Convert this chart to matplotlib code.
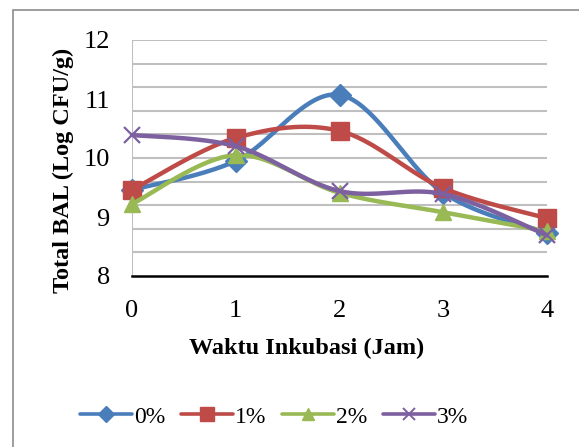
import numpy as np
import matplotlib.pyplot as plt
from matplotlib.patches import Rectangle

plt.rcParams['font.family'] = ['Liberation Serif', 'DejaVu Serif']

# jam inkubasi dan total BAL (log CFU/g) per konsentrasi
waktu = [0, 1, 2, 3, 4]
bal_0 = [9.46, 9.95, 11.07, 9.41, 8.73]
bal_1 = [9.46, 10.34, 10.46, 9.49, 8.98]
bal_2 = [9.22, 10.05, 9.41, 9.08, 8.76]
bal_3 = [10.39, 10.20, 9.44, 9.39, 8.69]
labels = ['0%', '1%', '2%', '3%']
y_ticks = [8, 9, 10, 11, 12]


def smooth(x, y, n=40):
    # kurva halus ala Excel (Bezier dengan titik kontrol Catmull-Rom)
    p = np.column_stack([x, y]).astype(float)
    pts = np.vstack([p[0], p, p[-1]])
    out = []
    t = np.linspace(0, 1, n)[:, None]
    for i in range(1, len(pts) - 2):
        p0, p1, p2, p3 = pts[i - 1], pts[i], pts[i + 1], pts[i + 2]
        c1 = p1 + (p2 - p0) / 6
        c2 = p2 - (p3 - p1) / 6
        seg = ((1 - t) ** 3) * p1 + 3 * ((1 - t) ** 2) * t * c1 \
            + 3 * (1 - t) * t ** 2 * c2 + t ** 3 * p2
        out.append(seg)
    out = np.vstack(out)
    return out[:, 0], out[:, 1]


fig = plt.figure(figsize=(5.79, 4.47), dpi=100)
fig.patches.append(Rectangle((13 / 579, -0.1), 1.0, 1 - 10 / 447 + 0.1,
                             transform=fig.transFigure, fill=False,
                             edgecolor='#8c8c8c', linewidth=1.2))

ax = fig.add_axes([132 / 579, 1 - 276 / 447, 415 / 579, 236 / 447])
ax.set_xlim(0, 4)
ax.set_ylim(8, 12)

for g in np.arange(8.4, 12.01, 0.4):
    ax.axhline(g, color='#bfbfbf', linewidth=1.5, zorder=0)
ax.axvline(0, color='#bfbfbf', linewidth=1.5, zorder=0)

for s in ['top', 'right', 'left']:
    ax.spines[s].set_visible(False)
ax.spines['bottom'].set_linewidth(1.8)
ax.spines['bottom'].set_color('black')

series = [
    (bal_0, '#4a7ebb', 'D', 11),
    (bal_1, '#be4b48', 's', 13),
    (bal_2, '#98b954', '^', 12),
    (bal_3, '#7d60a0', 'x', 12),
]
for (vals, col, mk, ms), lab in zip(series, labels):
    sx, sy = smooth(waktu, vals)
    ax.plot(sx, sy, color=col, linewidth=3.2, solid_capstyle='round',
            clip_on=False)
    if mk == 'x':
        ax.plot(waktu, vals, linestyle='none', marker=mk, color=col,
                markersize=ms, markeredgewidth=1.6, clip_on=False)
    else:
        ax.plot(waktu, vals, linestyle='none', marker=mk, color=col,
                markersize=ms, clip_on=False)
    # contoh legenda sedikit lebih kecil
    ax.plot([], [], color=col, linewidth=2.6, marker=mk,
            markersize=ms * 0.75, solid_capstyle='round',
            markeredgewidth=1.4 if mk == 'x' else 1, label=lab)

ax.set_yticks(y_ticks)
ax.set_xticks(waktu)
ax.tick_params(length=0, labelsize=19)
ax.tick_params(axis='y', pad=16)
ax.tick_params(axis='x', pad=17)

ax.set_xlabel('Waktu Inkubasi (Jam)', fontsize=17.5, fontweight='bold')
ax.set_ylabel('Total BAL (Log CFU/g)', fontsize=17.5, fontweight='bold')
ax.xaxis.set_label_coords((307 - 132) / 415, (276 - 348) / 236)
ax.yaxis.set_label_coords((63 - 132) / 415, (276 - 170) / 236)
ax.xaxis.label.set_va('center')
ax.yaxis.label.set_va('center')

fig.legend(loc='center', bbox_to_anchor=(274 / 579, 1 - 417 / 447), ncol=4,
           frameon=False, fontsize=17, handlelength=2.2, handletextpad=0.1,
           columnspacing=0.65)

fig.savefig('out.png', dpi=100)
